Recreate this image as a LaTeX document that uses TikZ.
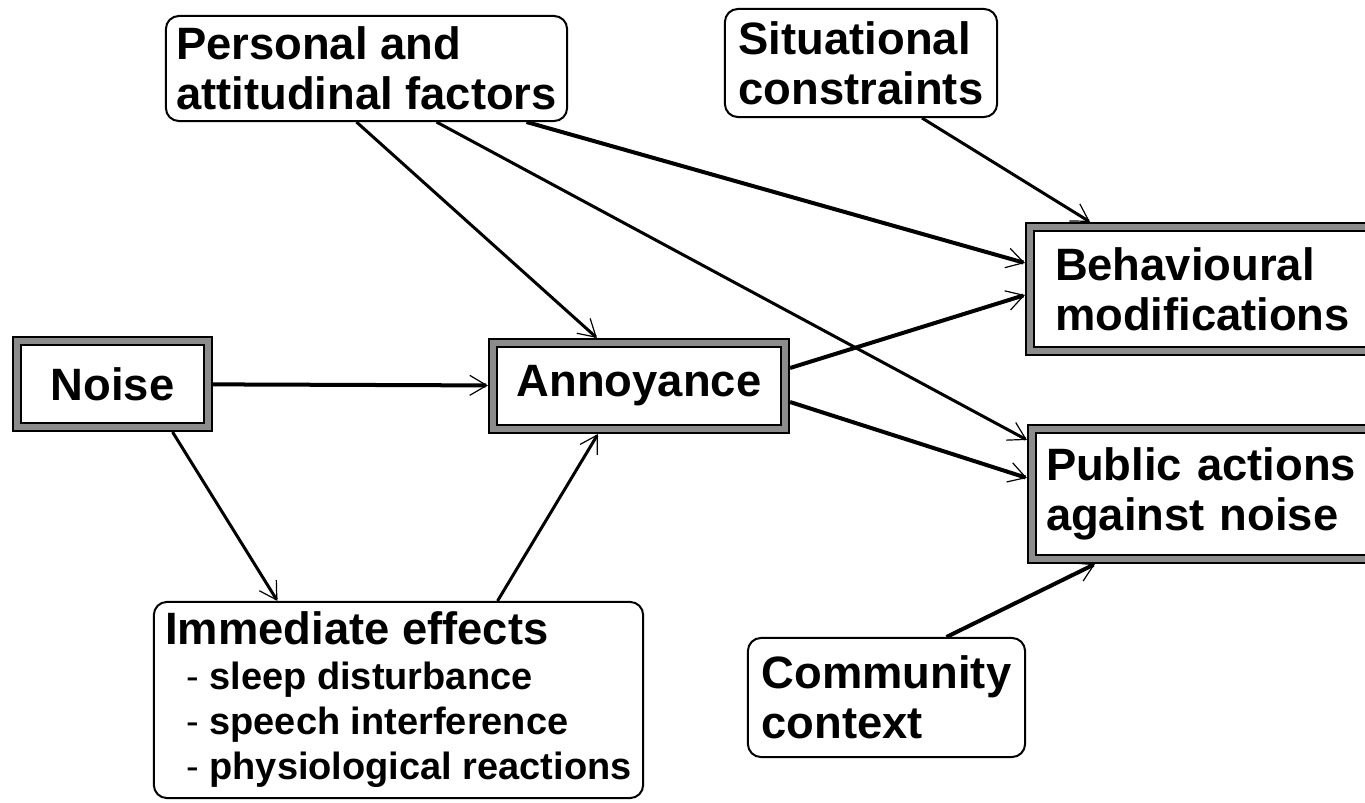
\documentclass[tikz,border=0pt]{standalone}
\usepackage{fontspec}
\setmainfont{Liberation Sans}
\usetikzlibrary{arrows.meta}

\newcommand{\itemfont}{\fontsize{10.8}{12.8}\selectfont}

\begin{document}
\begin{tikzpicture}[x=0.01cm,y=-0.01cm,
  txt/.style={font=\fontsize{12.9}{14.2}\selectfont\bfseries},
  dblbox/.style={txt, draw=black, line width=0.02cm, double=black!45, double distance=0.06cm, outer sep=0.05cm, inner sep=0pt},
  roundbox/.style={txt, draw=black, line width=0.02cm, rounded corners=0.13cm, align=left, inner sep=0pt},
  flow/.style={line width=0.03cm, -{Straight Barb[length=0.17cm,width=0.2cm,line width=0.012cm]}},
  heavy/.style={flow, line width=0.04cm}]
\useasboundingbox (0,0) rectangle (1365,803);
\node[dblbox, minimum width=1.91cm, minimum height=0.86cm] (noise) at (112.5,384) {Noise};
\node[dblbox, minimum width=2.92cm, minimum height=0.86cm] (annoy) at (639,386) {Annoyance};
\node[dblbox, anchor=west, align=left, text width=3.3cm, inner xsep=0.25cm, minimum height=1.24cm] (behav) at (1025,289) {Behavioural\\modifications};
\node[dblbox, anchor=west, align=left, text width=3.4cm, inner xsep=0.14cm, minimum height=1.30cm] (public) at (1027,494) {Public actions\\against noise};
\node[roundbox, minimum width=4.01cm, minimum height=1.05cm] (personal) at (366.5,68.5) {Personal and\\attitudinal factors};
\node[roundbox, minimum width=2.72cm, minimum height=1.08cm] (situation) at (861,63) {Situational\\constraints};
\node[roundbox, minimum width=2.77cm, minimum height=1.19cm] (community) at (886.5,697.5) {Community\\context};
\node[roundbox, minimum width=4.89cm, minimum height=1.96cm, font=\fontsize{12.9}{12.8}\selectfont\bfseries] (immediate) at (398.5,700)
  {Immediate effects\\
   {\itemfont\hspace*{0.21cm}{\mdseries -} sleep disturbance}\\
   {\itemfont\hspace*{0.21cm}{\mdseries -} speech interference}\\
   {\itemfont\hspace*{0.21cm}{\mdseries -} physiological reactions}};
\draw[heavy] (noise) -- (annoy);
\draw[flow] ([xshift=0.6cm]noise.south) -- ([xshift=-1.21cm]immediate.north);
\draw[flow] ([xshift=0.99cm]immediate.north) -- ([xshift=-0.41cm]annoy.south);
\draw[flow] ([xshift=-0.1cm]personal.south) -- ([xshift=-0.42cm]annoy.north);
\draw[flow] ([xshift=0.7cm]personal.south) -- ([yshift=0.54cm]public.west);
\draw[heavy] ([xshift=1.6cm]personal.south) -- ([yshift=0.26cm]behav.west);
\draw[flow] ([xshift=0.61cm]situation.south) -- ([xshift=0.65cm]behav.north west);
\draw[heavy] ([yshift=0.18cm]annoy.east) -- ([yshift=-0.06cm]behav.west);
\draw[heavy] ([yshift=-0.16cm]annoy.east) -- ([yshift=0.16cm]public.west);
\draw[heavy] ([xshift=0.6cm]community.north) -- ([xshift=0.68cm]public.south west);
\end{tikzpicture}
\end{document}
